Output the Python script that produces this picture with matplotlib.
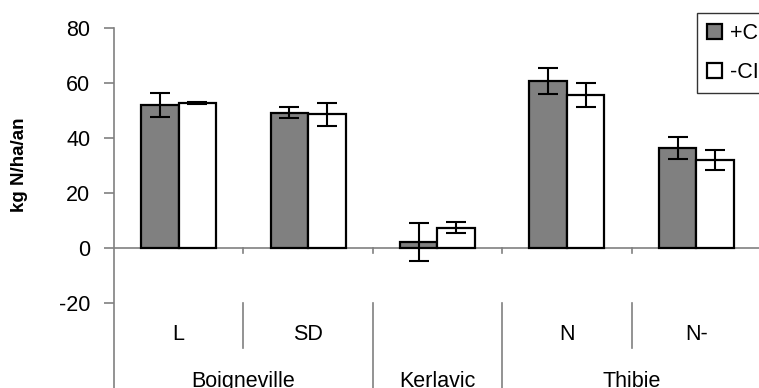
import matplotlib
matplotlib.use("Agg")
import matplotlib.pyplot as plt
import numpy as np

plt.rcParams['font.family'] = ['Liberation Sans', 'DejaVu Sans']

sous_cat = ["L", "SD", "", "N", "N-"]
sites = ["Boigneville", "Kerlavic", "Thibie"]
site_pos = [0.5, 2, 3.5]
plus_ci = [52.0, 49.2, 2.2, 60.7, 36.4]
plus_ci_err = [4.2, 2.0, 6.9, 4.7, 4.0]
moins_ci = [52.7, 48.7, 7.3, 55.6, 32.0]
moins_ci_err = [0.3, 4.2, 2.0, 4.4, 3.5]
series = ["+CI", "-CI"]
yticks = [-20, 0, 20, 40, 60, 80]

W, H = 759, 388
fig = plt.figure(figsize=(W / 100, H / 100), dpi=100)
ax = fig.add_axes([114 / W, 0, 647 / W, (H - 28) / H])
ax.set_xlim(-0.5, 4.5)
ax.set_ylim(-50.9, 80)

x = np.arange(len(sous_cat))
w = 0.29
err_kw = dict(ecolor='black', elinewidth=1.5, capsize=7, capthick=1.5)
ax.bar(x - w / 2, plus_ci, w, color='#808080', edgecolor='black', linewidth=1.6,
       yerr=plus_ci_err, error_kw=err_kw, label=series[0], zorder=3)
ax.bar(x + w / 2, moins_ci, w, color='white', edgecolor='black', linewidth=1.6,
       yerr=moins_ci_err, error_kw=err_kw, label=series[1], zorder=3)

gris = '#808080'
for s in ['top', 'right', 'bottom']:
    ax.spines[s].set_visible(False)
ax.spines['left'].set_color(gris)
ax.spines['left'].set_linewidth(1.2)
ax.set_yticks(yticks)
ax.set_yticklabels([str(v) for v in yticks])
ax.tick_params(axis='y', length=7, width=1.2, color=gris, labelsize=15.5, pad=10)
ax.set_xticks([])
ax.axhline(0, color=gris, lw=1.2, zorder=2)

# petits traits sous l'axe zero
for b in np.arange(0.5, 4.5, 1):
    ax.plot([b, b], [0, -1.8], color=gris, lw=1.2, clip_on=False)
# separateurs des etiquettes
for b in [0.5, 3.5]:
    ax.plot([b, b], [-20, -36.4], color=gris, lw=1.2)
for b in [1.5, 2.5]:
    ax.plot([b, b], [-20, -52], color=gris, lw=1.2)

for i, lab in enumerate(sous_cat):
    ax.text(i, -31.3, lab, ha='center', va='center', fontsize=15.5)
for p, lab in zip(site_pos, sites):
    ax.text(p, -48.6, lab, ha='center', va='center', fontsize=15.5)

ax.set_ylabel("kg N/ha/an", fontsize=13.5, fontweight='bold')
ax.yaxis.set_label_coords(-86 / 647, 0.62)

leg = fig.legend(loc='upper left', bbox_to_anchor=(697 / W, 1 - 13 / H),
                 fontsize=15.5, frameon=True, fancybox=False, edgecolor='black',
                 handlelength=0.7, handleheight=0.7, handletextpad=0.4,
                 labelspacing=0.85, borderpad=0.45, borderaxespad=0)
leg.get_frame().set_linewidth(1.0)

fig.savefig("out.png", dpi=100)
